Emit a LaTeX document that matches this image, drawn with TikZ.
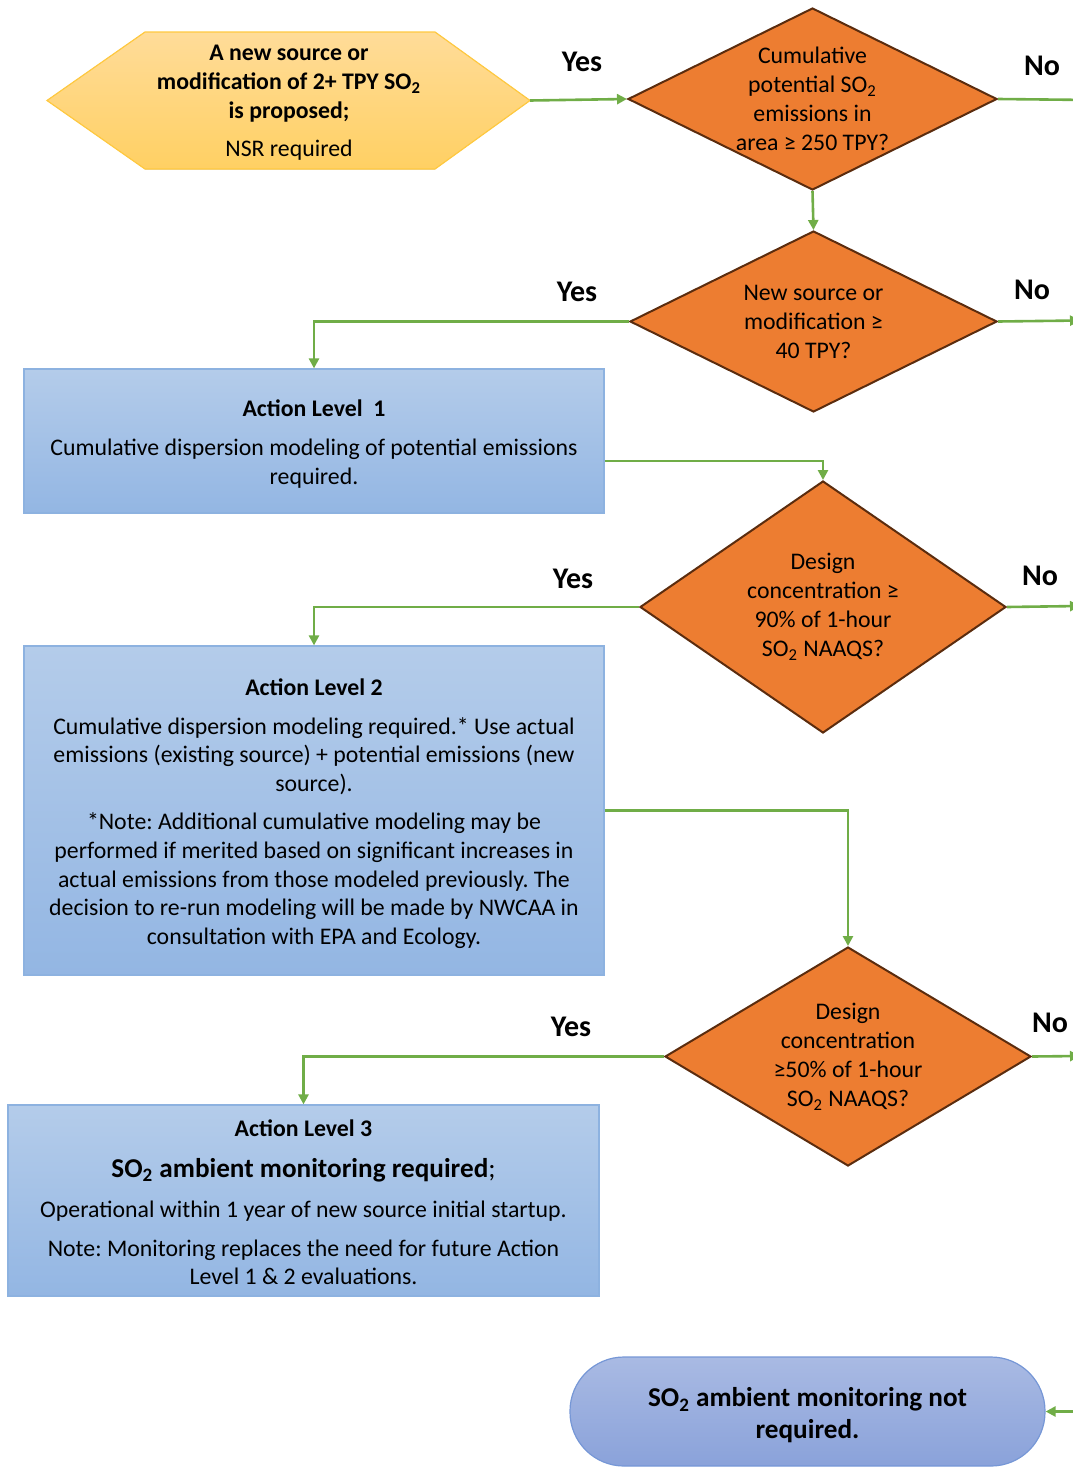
\documentclass[tikz,border=0pt]{standalone}
\usepackage{fontspec}
\setmainfont{Carlito}
\frenchspacing
\usetikzlibrary{
    arrows.meta,
    shapes.geometric,
    calc,
    positioning
}
\definecolor{flowgreen}{HTML}{70AD47}
\definecolor{decorange}{HTML}{ED7D31}
\definecolor{decborder}{HTML}{5B2C0E}
\definecolor{boxtop}{HTML}{B4CCEA}
\definecolor{boxbottom}{HTML}{93B6E3}
\definecolor{boxborder}{HTML}{8DB2E0}
\definecolor{hextop}{HTML}{FFDC99}
\definecolor{hexbottom}{HTML}{FFD063}
\definecolor{hexborder}{HTML}{FFC940}
\definecolor{endtop}{HTML}{A9BAE3}
\definecolor{endbottom}{HTML}{8AA2DA}
\definecolor{endborder}{HTML}{7697D6}

\begin{document}
\begin{tikzpicture}[x=0.5pt, y=-0.5pt,
    font={\fontsize{11.9}{14.3}\selectfont},
    flow/.style={draw=flowgreen, line width=1.3pt, -{Triangle[length=5pt, width=5pt]}},
    decision/.style={diamond, draw=decborder, line width=1pt, fill=decorange, inner sep=0pt},
    dtext/.style={align=center, inner sep=0pt, font={\fontsize{11.9}{14.5}\selectfont}},
    btext/.style={align=center, inner sep=0pt, yshift=-1.5pt},
    action/.style={rectangle, draw=boxborder, line width=0.6pt, top color=boxtop,
        bottom color=boxbottom, inner sep=0pt},
    terminal/.style={rectangle, rounded corners=27pt, draw=endborder, line width=0.6pt,
        top color=endtop, bottom color=endbottom, inner sep=0pt},
    endtext/.style={align=center, inner sep=0pt, yshift=-2pt,
        font={\fontsize{13.6}{16}\selectfont\bfseries}},
    answer/.style={inner sep=0pt, font={\fontsize{15}{18}\selectfont\bfseries}}]
                        \useasboundingbox (0, 0) rectangle (1072, 1467);
                        \filldraw[draw=hexborder, line width=0.6pt, top color=hextop, bottom color=hexbottom]
                        (47, 100.5) -- (145, 32) -- (435, 32) -- (530, 100.5) -- (435, 169) -- (145, 169) -- cycle;
                        \node[dtext] (start) at (289, 103)
                        {\textbf{A new source or}\\\textbf{modification of 2+ TPY SO\textsubscript{2}}\\\textbf{is proposed;}\\[4.5pt]NSR required};
                        \coordinate (start-tip) at (530, 100.5);

                        \node[decision, minimum width=184.5pt, minimum height=91pt,
                            label={[dtext]center:{Cumulative\\potential SO\textsubscript{2}\\emissions in\\area ≥ 250 TPY?}}]
                            (d1) at (812.5, 99) {};
                        \node[decision, minimum width=183.5pt, minimum height=90.5pt,
                            label={[dtext]center:{New source or\\modification ≥\\40 TPY?}}]
                            (d2) at (813.5, 321.5) {};
                        \node[decision, minimum width=183pt, minimum height=126pt,
                            label={[dtext]center:{Design\\concentration ≥\\90\% of 1-hour\\SO\textsubscript{2} NAAQS?}}]
                            (d3) at (823, 607) {};
                        \node[decision, minimum width=183pt, minimum height=109.5pt,
                            label={[dtext]center:{Design\\concentration\\≥50\% of 1-hour\\SO\textsubscript{2} NAAQS?}}]
                            (d4) at (848, 1056.5) {};

                        \node[action, minimum width=290pt, minimum height=72pt,
                            label={[btext]center:{\textbf{Action Level\ \ 1}\\[5pt]
                            Cumulative dispersion modeling of potential emissions\\required.}}]
                            (al1) at (314, 441) {};
                        \node[action, minimum width=290pt, minimum height=164.5pt,
                            label={[btext]center:{\textbf{Action Level 2}\\[5pt]
                            Cumulative dispersion modeling required.* Use actual\\
                            emissions (existing source) + potential emissions (new\\
                            source).\\[5pt]
                            *Note: Additional cumulative modeling may be\\
                            performed if merited based on significant increases in\\
                            actual emissions from those modeled previously. The\\
                            decision to re-run modeling will be made by NWCAA in\\
                            consultation with EPA and Ecology.}}]
                            (al2) at (314, 810.5) {};
                        \node[action, minimum width=295.5pt, minimum height=95.5pt,
                            label={[btext, yshift=0.5pt]center:{\textbf{Action Level 3}\\[6pt]
                            {\fontsize{13.6}{16}\selectfont\bfseries SO\textsubscript{2} ambient monitoring required}{\fontsize{13.6}{16}\selectfont;}\\[6pt]
                            Operational within 1 year of new source initial startup.\\[5pt]
                            Note: Monitoring replaces the need for future Action\\
                            Level 1 \& 2 evaluations.}}]
                            (al3) at (303.5, 1200.5) {};
                        \node[terminal, minimum width=237.5pt, minimum height=54.5pt,
                            label={[endtext]center:{SO\textsubscript{2} ambient monitoring not\\required.}}]
                            (stop) at (807.5, 1411.5) {};

                        \coordinate (no1-end) at (1090, 100);
                        \coordinate (no2-end) at (1080, 320.5);
                        \coordinate (no3-end) at (1080, 606);
                        \coordinate (no4-end) at (1080, 1056);
                        \coordinate (no5-start) at (1090, 1411.5);

                        \draw[flow] (start-tip) -- (d1.west);
                        \draw[flow] (d1.south) -- (d2.north);
                        \draw[flow] (d1.east) -- (no1-end);
                        \draw[flow] (d2.west) -| (al1.north);
                        \draw[flow] (d2.east) -- (no2-end);
                        \draw[flow] ([yshift=-10pt]al1.east) -| (d3.north);
                        \draw[flow] (d3.west) -| (al2.north);
                        \draw[flow] (d3.east) -- (no3-end);
                        \draw[flow] (al2.east) -| (d4.north);
                        \draw[flow] (d4.west) -| (al3.north);
                        \draw[flow] (d4.east) -- (no4-end);
                        \draw[flow] (no5-start) -- (stop.east);

                        \node[answer] (yes1) at (582, 62) {Yes};
                        \node[answer] (no1) at (1042, 66) {No};
                        \node[answer] (yes2) at (577, 292) {Yes};
                        \node[answer] (no2) at (1032, 290) {No};
                        \node[answer] (yes3) at (573, 579) {Yes};
                        \node[answer] (no3) at (1040, 576) {No};
                        \node[answer] (yes4) at (571, 1027) {Yes};
                        \node[answer] (no4) at (1050, 1023) {No};
                    \end{tikzpicture}
\end{document}
